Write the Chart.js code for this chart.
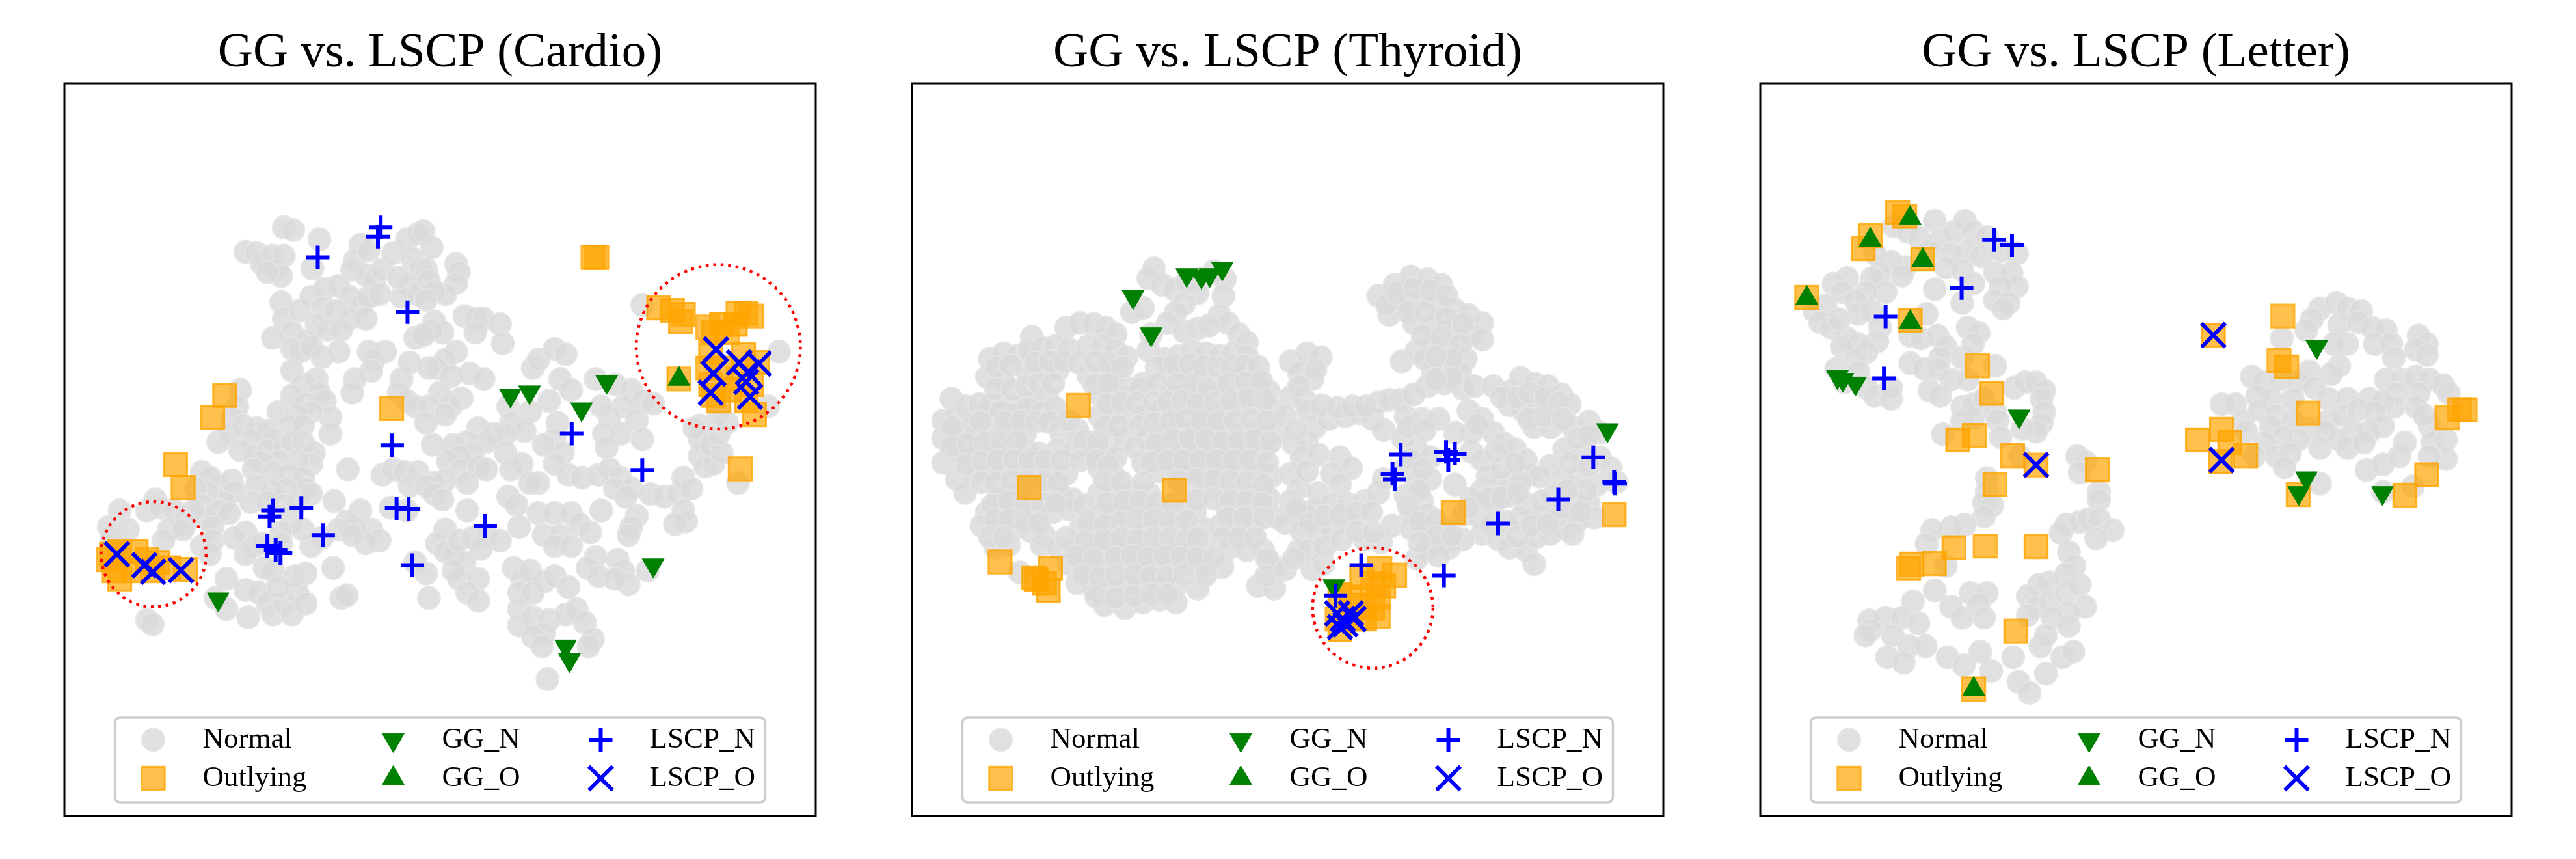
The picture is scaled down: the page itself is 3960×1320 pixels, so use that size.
<!DOCTYPE html>
<html>
<head>
<meta charset="utf-8">
<script src="https://cdn.jsdelivr.net/npm/chart.js@4.4.1/dist/chart.umd.min.js"></script>
<style>
  body { margin: 0; background: #fff; width: 3960px; height: 1320px; overflow: hidden; position: relative; }
  .panel { position: absolute; top: 0; }
</style>
</head>
<body>
<div class="panel" style="left:59px"><canvas id="c0" width="1235" height="1320"></canvas></div>
<div class="panel" style="left:1362px"><canvas id="c1" width="1235" height="1320"></canvas></div>
<div class="panel" style="left:2666px"><canvas id="c2" width="1235" height="1320"></canvas></div>
<script>
// t-SNE style coordinates, one list per series
const titles = ['GG vs. LSCP (Cardio)', 'GG vs. LSCP (Thyroid)', 'GG vs. LSCP (Letter)'];
const legendLabels = ['Normal', 'Outlying', 'GG_N', 'GG_O', 'LSCP_N', 'LSCP_O'];

// ---- Cardio ----
const cardioNormal = [
  [-28.2,40.5],[-26.5,40.0],[-35.2,36.0],[-33.2,35.8],[-32.2,33.8],[-30.2,35.3],[-28.2,35.3],[-29.7,32.8],[-28.7,31.6],[-31.2,32.3],
  [-21.7,38.3],[-23.0,33.0],[-14.2,37.3],[-15.2,34.5],[-12.7,36.3],[-15.7,32.8],[-13.2,31.8],[-11.7,30.8],[-10.2,32.8],[-8.2,35.8],
  [-5.7,38.3],[-3.7,39.3],[-4.7,34.8],[-3.2,32.8],[-5.2,29.8],[-6.7,27.8],[-3.7,28.3],[-7.2,31.3],
  [-28.7,26.8],[-28.2,23.8],[-26.7,21.3],[-25.2,25.3],[-23.2,27.8],[-20.7,29.3],[-18.2,29.8],[-16.2,27.8],[-14.2,26.3],[-12.7,27.8],
  [-10.7,28.3],[-21.2,25.8],[-18.7,25.3],[-16.2,23.8],[-13.2,23.8],[-22.2,22.8],[-20.2,21.8],[-17.7,21.8],[-24.2,19.8],[-26.7,18.3],
  [-25.2,17.8],[-23.2,18.8],[-21.2,16.8],[-18.2,17.8],[-30.2,20.3],[-12.7,17.8],[-9.7,17.8],[-11.7,16.3],[-12.2,14.3],[-15.2,12.8],
  [-15.7,10.3],[-4.2,20.3],[-6.7,12.8],[-5.2,15.8],[-7.2,10.3],[-5.7,8.8],[-4.2,7.8],
  [-26.7,14.3],[-24.7,11.8],[-22.2,12.8],[-21.7,10.3],[-26.7,9.8],[-24.2,8.3],[-20.7,8.8],[-19.7,5.8],[-19.7,2.8],[-23.2,6.8],
  [-25.7,6.3],[-29.2,6.8],[-27.2,4.3],[-24.7,4.3],[-36.2,10.8],[-36.7,7.8],[-37.7,5.8],[-40.2,1.3],[-38.2,2.8],[-35.7,4.3],
  [-33.2,3.8],[-31.2,3.3],[-30.2,1.8],[-34.2,1.8],[-36.2,-0.2],[-33.7,-1.2],[-31.2,-0.2],[-28.2,0.3],[-26.7,1.3],[-24.7,1.3],
  [-22.7,-0.7],[-23.2,-2.7],[-25.7,-2.2],[-29.2,-2.2],[-32.2,-2.2],[-33.7,-3.7],[-30.2,-4.2],[-27.2,-4.7],[-24.7,-5.2],[-24.2,-7.2],
  [-27.7,-7.2],[-30.2,-7.7],[-33.2,-6.7],[-34.2,-9.7],[-31.2,-9.7],[-28.2,-10.2],[-25.7,-9.7],[-23.2,-8.2],[-43.2,-4.2],[-41.7,-5.2],
  [-40.2,-6.7],[-37.7,-5.7],[-37.2,-7.7],[-39.2,-9.7],[-42.2,-7.7],[-44.2,-7.2],[-43.2,-10.2],[-40.2,-11.2],[-38.2,-11.7],[-42.2,-12.7],
  [-44.7,-11.2],[-46.2,-13.7],[-41.2,-14.2],
  [-58.2,-11.2],[-60.2,-14.2],[-56.7,-14.7],[-53.2,-11.2],[-51.7,-9.2],[-50.7,-10.7],[-48.2,-11.2],[-49.2,-14.7],[-46.7,-14.7],[-50.2,-16.7],
  [-59.7,-16.0],[-43.2,-17.7],[-41.2,-16.7],[-41.7,-19.2],
  [-16.5,-3.7],[-19.0,-9.5],[-14.2,-11.2],[-10.2,-4.7],[-8.2,-3.7],[-6.2,-4.2],[-5.2,-6.7],[-3.7,-4.2],[-5.7,-11.2],[-8.7,-10.7],
  [-12.2,-14.7],[-15.2,-14.2],[-16.7,-13.2],[-18.2,-14.7],[-10.7,-16.7],[-13.2,-17.2],[-15.7,-15.7],[-21.2,-16.2],[-23.2,-17.7],[-24.7,-14.7],
  [-26.7,-13.7],[-28.7,-15.2],[-28.7,-17.2],[-35.2,-15.2],[-37.2,-16.2],[-33.7,-17.7],[-35.2,-19.2],[-32.2,-17.2],[-31.7,-21.7],[-30.2,-22.2],
  [-19.2,-21.7],[-17.7,-27.2],[-16.7,-26.7],[-38.7,-23.7],[-40.7,-27.2],[-38.7,-29.2],[-35.2,-25.7],[-34.7,-30.7],[-32.7,-26.2],[-31.2,-28.2],
  [-30.2,-30.2],[-28.2,-28.2],[-26.7,-30.2],[-25.7,-26.2],[-24.2,-22.7],[-24.2,-28.2],[-26.2,-23.2],[-29.2,-25.2],[-53.2,-31.2],[-52.2,-32.0],
  [-4.2,-20.7],
  [-2.7,39.8],[-1.2,36.8],[-2.2,32.8],[-1.7,30.8],[3.3,33.8],[3.8,32.3],[3.3,30.3],[1.3,28.3],[-0.7,28.8],[-2.2,27.3],
  [-0.7,23.3],[0.8,21.3],[-1.2,21.8],[-2.7,20.8],[4.8,24.3],[6.8,23.8],[8.3,23.8],[6.8,21.3],[11.3,22.8],[11.8,19.3],
  [3.3,17.8],[1.3,16.3],[-0.2,14.8],[-1.7,14.8],[2.3,13.3],[5.8,13.8],[8.3,12.8],[4.3,9.3],[2.3,7.8],[0.3,10.3],
  [-1.7,7.8],[-2.2,4.8],[1.3,6.3],
  [17.3,14.8],[18.3,16.3],[21.3,18.3],[23.3,17.3],[22.3,12.8],[24.3,10.8],[20.3,8.8],[21.8,4.8],[21.3,1.8],[22.8,-0.7],[21.3,-2.7],
  [28.8,12.8],[32.3,11.8],[35.3,10.8],[37.3,8.8],[39.3,8.3],[33.8,7.8],[31.3,5.8],[29.8,7.8],[36.3,5.3],[30.3,2.8],
  [33.3,2.8],[37.3,1.8],[30.8,0.3],
  [12.8,7.8],[16.8,6.8],[13.3,4.8],[15.8,3.3],[12.3,2.8],[7.3,3.8],[10.3,2.8],[8.8,1.3],[5.3,1.3],[2.8,0.8],
  [-1.0,0.8],[6.3,-0.7],[3.8,-1.2],[1.8,-2.2],[4.3,-3.7],[7.3,-3.2],[8.8,-3.7],[12.3,-0.7],[13.3,-3.7],[15.3,-2.7],
  [18.3,-6.2],[16.8,-6.2],[19.3,0.8],
  [1.3,-5.7],[-0.7,-6.2],[-2.2,-6.7],[-0.7,-8.2],[0.8,-9.2],[5.3,-6.2],
  [23.8,-4.7],[26.3,-5.2],[29.3,-4.7],[31.3,-3.7],[33.3,-5.2],[35.3,-7.2],[32.3,-7.2],[34.3,-8.7],[12.8,-8.7],[14.3,-10.2],
  [38.8,-8.2],[41.3,-8.7],[43.8,-8.2],[44.8,-5.2],[46.3,-7.2],[44.8,-11.2],[45.3,-13.2],[43.3,-13.7],[36.3,-12.2],[35.3,-14.2],
  [34.8,-15.7],[29.8,-11.2],
  [47.8,-1.2],[48.8,-3.2],[50.3,-2.7],[47.8,1.8],[49.8,0.8],[51.8,-0.7],[51.3,2.8],[52.8,4.8],[54.8,-6.2],[62.3,17.8],
  [60.3,7.8],[51.3,6.3],[47.8,4.3],[37.3,26.3],[46.8,3.8],
  [5.3,-11.2],[1.3,-14.7],[-0.2,-17.2],[1.3,-18.7],[2.8,-19.2],[3.8,-16.7],[6.3,-16.2],[8.8,-15.7],[11.3,-16.7],[7.8,-18.2],
  [4.8,-20.7],[3.8,-23.7],[7.3,-23.7],[5.3,-26.2],[7.3,-27.7],[2.8,-22.2],[-1.7,-27.2],[-2.2,-22.7],
  [14.8,-14.2],[18.3,-11.7],[21.3,-11.7],[24.3,-11.7],[25.8,-13.7],[27.8,-15.2],[19.3,-15.7],[22.3,-15.7],[21.3,-17.7],[24.3,-17.7],
  [28.8,-19.7],[27.3,-21.7],[29.3,-23.2],[32.8,-20.2],[33.8,-22.2],[34.8,-24.7],[32.3,-23.7],[38.3,-22.2],
  [13.8,-21.7],[15.3,-23.7],[16.8,-22.2],[14.8,-26.2],[17.3,-26.2],[19.3,-24.2],[21.3,-23.2],[23.8,-25.2],[14.8,-29.2],[14.8,-32.2],
  [17.3,-30.7],[20.3,-31.2],[23.3,-30.2],[25.3,-29.2],[26.8,-31.7],[19.3,-33.7],[17.3,-34.2],[28.3,-34.7],
  [20.0,-42.0],[27.5,-36.0],[19.0,-36.0]
];
const cardioOutlying = [
  [-39.0,9.8],[-41.2,5.8],[-48.0,-2.8],[-46.6,-7.0],[-8.5,7.4],
  [-59.7,-19.2],[-60.2,-20.2],[-58.2,-18.7],[-55.2,-18.7],[-53.2,-20.2],[-51.2,-20.7],[-49.2,-21.7],[-46.2,-22.0],[-58.2,-23.7],[-55.7,-22.2],
  [-59.2,-22.2],[-52.2,-22.2],
  [28.3,35.0],[29.0,35.0],
  [40.3,25.8],[42.8,25.3],[44.8,24.6],[44.3,23.3],[49.3,22.3],[50.3,21.3],[51.8,22.8],[54.8,24.8],[56.3,24.8],[57.3,24.3],
  [54.3,22.8],[52.8,21.3],[49.8,17.8],[49.3,14.8],[49.8,11.8],[51.3,8.8],[53.3,10.8],[55.8,17.3],[58.3,15.8],[57.3,11.8],
  [57.8,6.3],[51.8,14.8],[54.8,12.8],[56.3,8.8],[50.3,9.8],
  [44.0,12.8],[55.2,-3.6]
];
const cardioGGN = [[-40.2,-27.4],[13.2,9.8],[16.7,10.4],[30.8,12.3],[26.2,7.3],[39.3,-21.2],[23.3,-36.0],[24.0,-38.5]];
const cardioGGO = [[44.0,12.8]];
const cardioLSCPN = [
  [-22.0,35.0],[-10.5,40.5],[-11.0,38.8],[-5.6,25.0],[-8.4,0.7],[-30.2,-11.2],[-30.8,-12.3],[-25.0,-10.7],[-31.2,-17.7],
  [-29.7,-18.4],[-28.8,-19.0],[-21.0,-15.7],[-7.6,-10.8],[-5.4,-10.9],[-4.7,-21.2],[24.4,2.8],[37.3,-3.8],[8.6,-14.0]
];
const cardioLSCPO = [
  [-58.7,-19.2],[-53.7,-21.2],[-52.1,-22.4],[-47.0,-22.1],[50.8,18.2],[55.0,15.8],[58.6,15.6],[50.3,13.8],[56.6,14.0],
  [56.3,12.3],[49.8,10.3],[57.0,9.6]
];
const cardioRings = [[51.2,18.7,15.0],[-52.0,-19.2,9.6]];   // centre x, centre y, radius

// ---- Thyroid ----
const thyroidNormal = [
  [-24.1,33.0],[-25.1,31.2],[-22.6,30.0],[-20.4,29.2],[-18.1,30.5],[-15.6,31.0],[-13.1,32.5],[-11.1,31.0],[-11.4,28.0],[-28.1,25.0],
  [-26.1,25.8],[-16.1,28.5],[-18.6,26.5],[-20.1,25.0],[-21.6,23.0],[-12.1,24.5],[-10.6,23.0],
  [-46.4,20.5],[-40.1,22.2],[-37.6,23.0],[-35.1,22.8],[-32.9,22.2],[-31.1,21.0],[-24.6,21.0],[-18.6,21.5],[-16.1,22.0],[-14.1,22.5],
  [-8.6,21.0],[-7.1,19.5],
  [-54.1,16.5],[-51.6,17.5],[-49.1,17.0],[-46.9,18.2],[-44.6,18.5],[-42.1,18.8],[-39.6,18.2],[-36.1,18.8],[-33.6,19.0],[-31.1,18.0],
  [-29.1,16.8],[-25.1,18.0],[-22.1,16.5],[-19.6,17.0],[-17.1,18.0],[-14.6,17.5],[-12.1,17.0],[-9.6,17.5],[-7.1,17.0],
  [-54.6,13.2],[-51.6,12.5],[-47.1,13.8],[-44.6,14.5],[-41.6,14.5],[-36.1,13.5],[-33.6,13.5],[-31.1,14.0],[-26.1,12.0],[-21.1,14.0],
  [-18.1,14.5],[-15.6,13.0],[-12.6,11.8],[-8.1,13.5],[-5.6,13.2],
  [-61.1,9.2],[-53.6,8.0],[-51.1,8.0],[-48.6,7.5],[-46.1,9.0],[-43.6,9.5],[-34.1,10.0],[-31.1,10.0],[-29.6,11.5],[-26.6,11.0],
  [-21.1,10.0],[-18.6,10.0],[-15.6,9.5],[-8.6,10.0],[-6.1,11.0],[-3.1,10.5],
  [-62.6,5.2],[-60.1,6.0],[-57.1,4.8],[-54.6,7.0],[-52.1,6.8],[-49.6,6.5],[-47.1,7.5],[-44.6,6.8],[-42.1,7.5],[-34.1,6.0],
  [-31.6,6.5],[-28.1,6.0],[-25.6,6.0],[-22.6,7.0],[-20.1,7.5],[-17.1,8.0],[-14.6,7.0],[-11.1,7.0],[-8.1,8.0],[-5.1,8.0],[-2.1,7.0],
  [-62.6,2.0],[-59.6,3.0],[-56.6,3.0],[-53.6,3.0],[-50.6,3.5],[-47.6,3.0],[-41.1,3.0],[-38.1,3.5],[-32.1,2.2],[-29.6,1.8],
  [-25.1,2.0],[-22.6,3.0],[-19.6,3.5],[-16.6,3.5],[-13.6,3.5],[-10.6,3.0],[-7.6,3.0],[-4.6,3.5],[-1.6,3.0],
  [-62.6,-2.5],[-59.6,-1.0],[-56.6,-1.0],[-53.6,-0.5],[-50.6,-0.5],[-47.6,0.0],[-45.1,-0.8],[-41.6,0.0],[-38.6,0.0],[-35.6,0.5],
  [-33.1,-0.5],[-31.1,-1.5],[-26.1,-2.5],[-22.1,-0.5],[-19.1,0.0],[-16.1,0.0],[-13.1,0.0],[-10.1,-0.5],[-7.1,0.0],[-4.1,0.0],
  [-60.1,-5.5],[-57.1,-4.5],[-54.1,-4.0],[-51.6,-3.5],[-48.6,-3.5],[-45.6,-4.0],[-42.6,-3.5],[-40.1,-4.5],[-34.1,-3.5],[-31.6,-4.5],
  [-23.1,-4.0],[-20.1,-3.5],[-17.1,-4.0],[-14.1,-4.0],[-11.1,-3.5],[-8.1,-4.0],[-5.1,-4.0],[-2.6,-5.0],
  [-58.6,-8.0],[-52.6,-9.0],[-49.6,-8.0],[-46.6,-8.5],[-43.6,-8.0],[-41.1,-8.5],[-38.9,-9.2],[-34.1,-8.0],[-31.1,-8.0],[-28.1,-7.8],
  [-25.1,-8.0],[-18.1,-9.0],[-14.6,-7.0],[-11.6,-7.5],[-8.6,-8.0],[-5.6,-8.0],[-3.1,-9.0],
  [-54.6,-11.5],[-51.6,-11.0],[-48.6,-11.2],[-45.6,-11.5],[-42.6,-11.5],[-39.6,-11.0],[-36.9,-10.2],[-34.1,-12.0],[-31.1,-11.5],[-28.1,-11.0],
  [-25.1,-11.0],[-22.1,-12.0],[-19.1,-11.5],[-16.6,-11.5],[-10.6,-11.0],[-7.6,-11.0],[-5.1,-10.5],[-1.6,-12.5],
  [-55.6,-14.0],[-52.6,-14.5],[-49.6,-14.5],[-46.6,-15.0],[-44.1,-15.8],[-37.6,-14.5],[-34.6,-15.5],[-31.6,-15.0],[-28.6,-14.5],[-25.6,-15.0],
  [-22.6,-14.5],[-19.6,-14.5],[-15.1,-14.5],[-12.1,-14.0],[-9.1,-14.5],[-6.1,-14.0],
  [-53.1,-18.0],[-50.6,-17.5],[-44.6,-17.5],[-41.6,-18.0],[-38.6,-18.0],[-35.6,-19.0],[-32.1,-18.0],[-29.1,-17.5],[-26.1,-18.0],[-23.1,-17.5],
  [-20.1,-18.0],[-17.1,-18.5],[-15.1,-18.0],[-10.1,-18.0],[-7.1,-18.5],[-4.1,-18.5],
  [-48.6,-22.5],[-39.6,-21.0],[-36.6,-21.5],[-33.6,-21.5],[-30.6,-21.0],[-27.6,-20.5],[-24.6,-21.5],[-21.6,-21.0],[-18.6,-21.0],[-15.1,-21.5],
  [-11.6,-21.5],[-2.1,-21.5],
  [-38.1,-24.5],[-35.1,-25.5],[-32.1,-25.5],[-29.1,-24.5],[-26.1,-25.0],[-23.1,-25.0],[-20.1,-25.0],[-16.1,-25.5],[-5.1,-25.0],[-2.1,-25.5],
  [-33.1,-28.5],[-29.4,-29.0],[-26.1,-28.0],[-23.1,-27.5],[-20.1,-28.0],
  // in-between rows of the left mass
  [-52.9,15.0],[-50.3,15.3],[-45.8,15.8],[-43.1,16.0],[-40.5,16.0],[-37.8,15.8],[-34.8,16.0],[-32.3,15.8],[-29.8,15.0],[-23.6,15.0],
  [-20.3,15.5],[-17.6,15.6],[-15.1,15.2],[-12.4,15.0],[-9.9,15.2],[-7.5,15.3],[-5.0,15.0],
  [-53.0,11.0],[-49.9,10.8],[-47.4,11.5],[-45.0,12.0],[-42.5,12.0],[-35.0,11.8],[-32.4,11.9],[-23.5,12.0],[-19.8,12.0],[-17.0,11.8],
  [-14.2,11.0],[-10.5,12.0],[-7.3,12.2],[-4.5,12.5],
  [-58.5,7.8],[-56.0,8.2],[-32.6,8.3],[-30.0,8.5],[-27.3,8.5],[-24.0,8.6],[-21.5,8.7],[-19.0,8.8],[-16.2,8.2],[-13.0,8.5],
  [-10.0,8.8],[-6.8,9.3],[-3.8,9.0],
  [-61.1,4.0],[-55.8,5.0],[-51.3,5.0],[-48.4,5.2],[-45.6,5.0],[-43.3,5.0],[-39.6,5.2],[-33.1,4.2],[-30.6,4.2],[-26.8,4.2],
  [-24.0,4.8],[-21.0,5.2],[-18.2,5.5],[-15.4,5.2],[-12.3,5.2],[-9.3,5.2],[-6.4,5.5],[-3.4,5.2],
  [-61.1,0.5],[-58.1,1.0],[-55.1,1.2],[-52.1,1.5],[-49.1,1.5],[-36.8,1.5],[-34.3,1.3],[-27.6,0.3],[-23.6,1.0],[-20.6,1.8],
  [-17.6,1.8],[-14.6,1.8],[-11.6,1.3],[-8.6,1.5],[-5.6,1.8],[-2.8,1.3],
  [-58.4,-2.8],[-55.4,-2.2],[-52.6,-2.0],[-49.6,-2.0],[-46.9,-2.2],[-43.9,-2.0],[-40.9,-2.0],[-37.4,-2.0],[-34.6,-2.0],[-32.4,-3.0],
  [-24.6,-2.3],[-21.6,-2.0],[-18.6,-2.0],[-15.6,-2.0],[-12.6,-2.0],[-9.6,-2.0],[-6.6,-2.0],[-3.4,-2.4],
  [-55.6,-6.0],[-53.1,-6.2],[-50.1,-5.8],[-47.1,-5.8],[-44.1,-5.8],[-41.6,-6.2],[-33.1,-5.8],[-30.1,-6.0],[-26.0,-6.2],[-19.6,-5.8],
  [-16.1,-5.5],[-13.1,-5.6],[-10.1,-5.8],[-7.1,-6.0],[-4.1,-6.5],
  [-53.6,-10.2],[-50.6,-9.5],[-47.6,-9.8],[-44.6,-9.8],[-42.1,-9.8],[-32.6,-9.8],[-29.6,-9.5],[-26.6,-9.5],[-23.6,-9.8],[-20.6,-10.0],
  [-16.3,-9.2],[-13.1,-9.0],[-10.1,-9.3],[-7.1,-9.5],[-4.3,-9.8],
  [-53.1,-12.8],[-50.6,-12.8],[-47.6,-13.2],[-45.1,-13.5],[-36.1,-13.2],[-33.1,-13.8],[-30.1,-13.2],[-27.1,-12.8],[-24.1,-12.8],[-21.1,-13.2],
  [-18.1,-13.0],[-10.6,-12.5],[-7.6,-12.5],[-4.0,-12.5],
  [-54.1,-16.0],[-51.6,-16.0],[-40.1,-16.2],[-36.6,-16.8],[-33.1,-16.5],[-30.1,-16.2],[-27.1,-16.5],[-24.1,-16.2],[-21.1,-16.2],[-18.1,-16.5],
  [-16.1,-16.2],[-11.6,-16.2],[-8.6,-16.2],[-5.6,-16.2],
  [-38.1,-19.5],[-35.1,-20.0],[-31.1,-19.8],[-28.1,-19.5],[-25.1,-19.8],[-22.1,-19.5],[-19.1,-19.8],[-16.1,-19.8],[-13.1,-19.8],[-3.4,-20.0],
  [-37.1,-23.0],[-34.1,-23.5],[-31.1,-23.0],[-27.6,-23.0],[-24.6,-23.2],[-21.6,-23.2],[-18.6,-23.0],[-14.6,-23.0],[-3.6,-23.2],
  [-34.6,-27.0],[-31.1,-27.2],[-27.6,-26.8],[-24.6,-26.5],[-21.6,-26.5],
  // right half
  [16.9,28.0],[19.9,30.0],[22.9,31.5],[25.9,31.0],[28.4,30.0],[21.9,27.0],[24.9,27.5],[27.9,26.5],[30.9,25.5],[33.4,24.5],
  [35.9,23.0],[18.9,24.5],[23.4,23.0],[26.9,22.5],[30.4,21.5],[33.9,21.0],[35.9,20.0],[21.2,16.0],[23.9,18.0],[26.9,19.0],
  [29.9,18.0],[32.9,16.5],[28.9,15.0],[31.9,14.0],[26.9,14.0],[25.9,11.5],[28.9,12.0],[32.4,11.0],[34.4,11.5],
  [0.9,16.0],[3.9,17.5],[6.4,16.8],[2.4,14.0],[4.9,12.8],
  [5.4,4.0],[7.9,5.5],[10.9,6.0],[13.4,6.5],[15.9,5.5],[17.9,3.5],[16.9,8.5],[18.9,9.0],[1.4,1.0],[3.9,1.5],
  [2.9,-1.5],[0.9,-4.5],[2.4,-7.0],[0.9,-9.5],[3.4,-12.0],[5.9,-1.0],[9.9,-1.5],[11.9,-3.5],[8.4,-4.5],[9.9,-6.5],
  [5.9,-8.0],[5.4,-11.0],[8.4,-10.0],[11.4,-10.0],[14.4,-9.5],[16.9,-8.0],[17.9,-5.5],
  [-0.1,-13.5],[2.9,-15.0],[5.9,-15.5],[8.4,-14.5],[11.4,-13.0],[14.4,-16.5],[17.4,-17.0],[19.4,-14.0],[4.9,-22.0],[6.9,-21.0],
  [2.4,-18.5],[-0.1,-22.0],
  [20.9,9.0],[23.4,10.0],[21.9,6.0],[24.9,5.5],[27.9,5.5],[21.4,2.0],[23.9,0.0],[26.4,-1.5],[21.9,-3.5],[23.9,-6.0],
  [26.4,-5.5],[21.9,-8.5],[24.9,-9.5],[22.9,-12.0],[25.9,-12.0],[22.9,-14.5],[25.9,-15.0],[28.9,-14.5],[28.9,-17.0],[25.9,-18.5],
  [23.9,-20.0],[30.9,-6.5],
  [33.4,7.0],[35.9,5.5],[37.9,3.0],[39.9,1.0],[41.9,0.0],[43.9,-2.0],[44.4,-4.5],[41.4,-5.5],[38.9,-7.0],[35.9,-7.5],
  [33.9,-9.0],[32.4,-12.0],[35.4,-12.5],[37.9,-10.0],[40.9,-8.5],[43.9,-10.0],[42.9,-12.5],[35.9,-15.5],[38.9,-16.5],[40.9,-18.0],
  [43.9,-18.5],[45.4,-21.0],[45.9,-16.0],[48.4,-15.5],[50.9,-14.5],[49.9,-12.0],[46.9,-12.5],[32.4,-16.5],[29.9,-18.0],[33.9,-0.5],
  [35.9,-2.0],[33.9,3.0],[30.9,3.0],
  [37.9,11.5],[40.9,10.5],[42.9,13.0],[45.4,12.0],[47.9,11.5],[50.4,10.0],[51.9,8.2],[49.4,7.0],[46.4,8.0],[43.4,7.0],
  [40.9,8.0],[45.4,4.0],[48.4,4.0],
  [52.4,4.0],[55.4,5.0],[57.4,3.0],[50.9,0.0],[53.9,-1.0],[57.4,-1.5],[59.4,-3.5],[60.4,-6.0],[48.4,-3.0],[46.4,-5.0],
  [50.4,-5.5],[53.4,-5.0],[56.9,-6.5],[48.9,-8.5],[52.4,-9.0],[55.4,-10.0],[56.4,-12.5],[53.4,-13.0],[52.4,-15.5],[46.9,-9.5],
  [42.9,-6.0],[53.4,2.0],
  [0.9,9.5],[3.4,9.0],[-0.1,6.0],[1.9,3.5],
  // in-between rows of the right half
  [18.4,26.5],[20.4,28.5],[23.4,29.3],[26.4,29.0],[29.4,28.0],[22.4,25.0],[25.4,25.0],[29.4,24.0],[32.4,23.0],[25.0,20.8],
  [28.4,20.5],[31.9,19.0],[25.4,16.5],[30.4,16.5],[27.4,17.0],[30.4,13.0],[27.4,12.8],
  [2.4,11.5],[5.4,14.5],[4.0,7.0],[6.6,8.0],[9.4,7.5],[12.2,7.8],[14.6,7.8],
  [3.9,-4.0],[1.9,-10.8],[4.4,-13.5],[7.1,-12.2],[9.9,-12.0],[12.9,-11.5],[15.6,-11.5],
  [4.2,-18.5],[7.2,-17.8],[10.2,-16.5],[13.0,-15.0],[16.0,-15.3],[1.5,-20.0],
  [22.4,4.0],[25.4,3.5],[22.9,-1.8],[25.0,-3.8],[24.4,-7.5],[22.4,-10.3],[24.4,-13.3],[27.4,-13.0],[27.4,-16.0],[24.4,-17.0],
  [30.4,-15.8],[27.9,-19.5],
  [33.4,-10.8],[36.9,-9.0],[39.4,-8.8],[42.4,-8.0],[37.4,-13.8],[40.4,-13.3],[42.4,-16.0],[44.9,-14.0],[47.9,-13.8],
  [36.9,-4.8],[39.4,-3.5],[41.9,-2.5],[38.4,-0.5],[35.0,4.5],
  [39.4,9.5],[42.4,9.5],[44.4,10.3],[47.4,9.5],[49.9,8.5],[44.4,5.5],[47.4,6.0],[50.6,5.5],
  [51.9,-2.5],[55.4,-3.0],[55.4,2.5],[50.4,-10.8],[53.9,-11.3],[54.9,-7.5],[51.4,-7.5]
];
const thyroidOutlying = [
  [-37.9,8.0],[-46.9,-7.0],[-20.4,-7.5],[-52.2,-20.6],[-43.0,-21.8],[-45.6,-23.8],[-44.1,-24.5],[-43.4,-25.8],[-46.1,-23.5],
  [30.6,-11.6],[60.0,-12.0],
  [17.2,-21.8],[19.9,-23.0],[15.9,-24.5],[17.9,-25.0],[16.9,-27.0],[15.9,-29.0],[13.9,-28.5],[11.9,-27.0],[9.9,-26.5],
  [11.9,-31.0],[9.4,-31.0],[9.9,-33.0],[14.4,-31.0],[16.9,-30.5],[13.9,-23.5]
];
const thyroidGGN = [[-27.9,27.8],[-24.6,21.0],[-18.1,31.8],[-15.4,31.5],[-13.9,31.8],[-11.6,33.0],[58.8,3.5],[8.8,-25.0]];
const thyroidGGO = [];
const thyroidLSCPN = [
  [21.0,-1.0],[19.5,-4.5],[19.9,-5.5],[29.3,-0.5],[30.9,-0.8],[29.7,-2.0],[56.2,-1.5],[60.0,-6.0],[60.2,-6.3],[49.8,-9.2],
  [38.8,-13.6],[28.9,-23.1],[13.8,-21.2],[9.1,-26.8]
];
const thyroidLSCPO = [[10.4,-31.0],[11.9,-30.0],[9.9,-32.5],[10.9,-32.0],[9.4,-30.0],[12.4,-31.0]];
const thyroidRings = [[15.9,-29.0,11.0]];

// ---- Letter ----
const letterNormal = [
  [-43.9,40.7],[-41.4,39.7],[-39.4,38.7],[-36.4,41.7],[-35.4,38.2],[-37.4,36.2],[-32.9,39.7],[-30.9,41.7],[-29.4,39.7],[-26.9,38.7],
  [-30.4,36.2],[-27.9,35.2],[-24.4,36.2],[-21.4,35.7],[-33.4,35.7],[-34.4,33.2],[-31.4,32.7],[-29.4,30.2],[-25.4,32.2],[-22.4,32.2],
  [-21.4,29.7],[-24.4,29.7],[-25.4,27.2],[-22.9,26.7],[-23.9,25.7],[-31.4,26.7],[-36.4,29.2],[-41.9,33.2],[-44.4,34.2],[-47.4,35.7],
  [-46.4,32.2],[-42.4,31.7],[-47.9,31.2],[-45.4,28.7],[-48.9,28.7],[-52.4,31.2],[-54.9,30.2],[-53.4,28.7],[-50.9,27.2],[-50.4,24.7],
  [-47.9,25.2],[-46.4,22.2],[-46.9,19.7],[-48.9,17.7],[-50.4,19.2],[-52.4,20.2],[-53.4,18.7],[-50.9,16.2],[-50.4,14.2],[-54.4,14.7],
  [-56.4,26.2],[-58.4,25.2],[-57.4,23.2],[-55.4,22.2],[-53.9,23.7],[-52.9,12.2],[-48.9,11.2],[-47.4,9.7],[-44.4,9.2],[-44.4,11.2],
  [-37.9,24.7],[-40.9,20.7],[-38.9,20.2],[-35.9,20.7],[-34.4,18.7],[-35.4,16.7],[-40.9,15.7],[-38.4,14.7],[-35.9,14.7],[-33.4,12.7],
  [-37.4,10.7],[-35.4,9.7],[-31.4,16.7],[-30.4,22.2],[-28.4,21.2],[-29.4,19.2],[-25.4,15.2],[-30.4,12.7],[-31.4,7.7],[-29.4,8.2],
  [-27.4,9.2],[-31.4,5.2],[-29.4,5.7],[-34.9,2.7],[-25.4,6.7],[-24.9,5.2],[-24.4,2.2],[-21.9,11.2],[-19.9,12.2],[-17.9,12.2],
  [-16.4,10.7],[-16.9,9.2],[-16.4,6.7],[-16.9,4.7],[-17.9,3.2],[-20.4,3.7],[-20.9,-1.3],[-10.4,-1.3],[-8.9,-2.3],[-9.9,-4.3],
  [-6.4,-7.8],[-6.4,-9.3],[-26.9,-5.3],[-26.9,-7.8],[-27.4,-9.8],[-25.9,-10.3],[-27.4,-12.3],[-30.9,-13.8],[-33.4,-14.3],[-36.9,-14.8],
  [-37.9,-17.3],[-34.4,-21.3],[-12.4,-13.8],[-13.4,-15.3],[-9.9,-13.3],[-8.4,-12.8],[-6.4,-12.8],[-3.9,-14.8],[-6.9,-16.3],[-11.9,-18.8],
  [-10.9,-21.3],[-12.4,-22.8],[-15.4,-24.3],[-17.4,-24.8],[-19.4,-26.8],[-17.9,-28.8],[-15.4,-27.8],[-12.4,-26.3],[-9.9,-24.8],[-8.9,-28.8],
  [-11.9,-29.8],[-14.9,-30.8],[-19.4,-30.3],[-11.9,-32.3],[-36.4,-25.8],[-40.4,-27.8],[-33.4,-28.8],[-29.9,-26.3],[-26.9,-26.3],[-28.4,-28.3],
  [-31.4,-30.8],[-27.4,-30.8],[-45.4,-30.8],[-48.4,-31.3],[-42.4,-30.8],[-39.4,-31.8],
  [-44.1,-34.0],[-41.1,-36.0],[-45.1,-38.0],[-48.1,-33.0],[-34.1,-38.0],[-31.1,-39.5],[-26.1,-40.5],[-21.1,-42.5],[-19.1,-44.5],[-16.1,-41.0],
  [-13.1,-38.0],[-17.1,-36.0],[-22.1,-38.0],[-28.1,-37.0],[-38.1,-36.0],[-11.1,-37.0],[-16.1,-34.0],[-49.1,-34.0],[-42.1,-39.0],
  [34.0,25.7],[37.0,26.7],[39.0,25.7],[41.5,25.2],[32.5,23.7],[31.5,21.7],[37.5,22.7],[41.0,23.2],[43.5,22.2],[46.0,21.7],
  [44.0,19.2],[47.0,19.2],[47.5,16.7],[39.0,19.2],[36.5,19.2],[27.0,20.2],[52.0,20.7],[53.5,19.2],[51.5,18.2],[53.5,17.2],
  [37.5,15.2],[36.0,13.7],[32.0,14.2],[21.5,13.2],[23.5,12.2],[46.0,12.7],[49.0,12.7],[51.5,13.2],[54.0,12.7],[56.5,11.7],
  [57.5,10.2],[52.0,10.2],[48.0,10.2],[47.5,7.7],[51.5,7.7],[26.5,12.7],[30.0,12.2],[33.0,11.2],[22.5,9.7],[25.0,9.2],
  [29.0,9.2],[35.5,9.2],[39.0,9.2],[43.0,9.2],[45.5,8.7],[16.0,8.2],[18.5,8.2],[20.0,5.2],[20.5,3.2],[23.0,7.2],
  [26.0,6.2],[25.0,4.2],[29.0,5.2],[32.0,3.7],[35.5,5.2],[38.0,6.2],[41.0,7.2],[44.0,6.7],[45.5,4.2],[43.0,3.2],
  [40.0,3.2],[37.5,1.7],[35.0,3.2],[34.0,0.2],[30.0,1.7],[27.0,2.2],[24.0,1.2],[22.0,-1.3],[26.0,-1.3],[28.5,-0.8],
  [27.5,-3.3],[39.0,0.2],[42.0,1.2],[34.0,-6.3],[42.5,-3.8],[45.5,-2.8],[48.5,-1.3],[49.5,1.2],[51.0,-6.8],[45.5,-7.8],
  [54.0,4.2],[54.5,1.2],[57.0,1.7],[57.0,-1.8],[54.0,-1.3],[53.0,6.2]
];
const letterOutlying = [
  [-43.2,43.2],[-41.9,42.5],[-48.2,39.0],[-49.5,36.6],[-38.6,34.7],[-59.8,27.7],[-40.9,23.5],[-28.6,15.2],[-26.0,10.2],[-32.2,1.7],
  [-29.2,2.5],[-22.2,-1.2],[-17.9,-2.9],[-25.4,-6.5],[-6.7,-3.8],[-32.9,-18.0],[-27.2,-17.7],[-17.9,-17.8],[-40.6,-21.0],[-41.2,-21.8],
  [-36.5,-20.9],[-21.6,-33.2],[-29.3,-43.8],
  [27.2,24.3],[14.5,20.8],[26.5,16.2],[27.9,15.0],[31.8,6.6],[16.0,3.6],[11.6,1.7],[17.5,1.2],[20.4,-1.2],[15.8,-2.3],
  [53.5,-4.7],[49.5,-8.4],[30.0,-8.3],[57.2,5.7],[59.5,7.2],[60.5,7.2]
];
const letterGGN = [[-54.2,13.2],[-53.2,12.7],[-50.9,12.0],[-21.0,6.0],[33.4,18.7],[31.5,-5.3],[30.1,-8.0],[45.4,-8.0]];
const letterGGO = [[-40.9,42.2],[-48.2,38.2],[-38.6,34.5],[-59.8,27.6],[-40.9,23.2],[-29.3,-43.8]];
const letterLSCPN = [[-25.6,38.2],[-22.3,37.2],[-31.5,29.4],[-45.4,24.2],[-45.7,12.9]];
const letterLSCPO = [[14.5,20.8],[16.0,-2.0],[-17.9,-2.9]];
const letterRings = [];

// axis limits shared by the three panels
const xRange = [-68.3, 69.0];
const yRange = [-67.0, 66.8];

// marker look for each series, same order as legendLabels
const seriesStyle = [
  { pointStyle: 'circle',   radius: 17.5, rotation: 0,   fill: 'rgba(218,218,218,0.85)', line: 'rgba(228,228,228,0.9)', width: 2 },
  { pointStyle: 'rect',     radius: 25,   rotation: 0,   fill: 'rgba(255,165,0,0.7)',    line: 'rgba(255,165,0,0.8)',   width: 3 },
  { pointStyle: 'triangle', radius: 19.5, rotation: 180, fill: 'rgb(0,128,0)',           line: 'rgb(0,128,0)',          width: 1 },
  { pointStyle: 'triangle', radius: 19.5, rotation: 0,   fill: 'rgb(0,128,0)',           line: 'rgb(0,128,0)',          width: 1 },
  { pointStyle: 'cross',    radius: 18,   rotation: 0,   fill: 'rgb(0,0,255)',           line: 'rgb(0,0,255)',          width: 6 },
  { pointStyle: 'crossRot', radius: 26,   rotation: 0,   fill: 'rgb(0,0,255)',           line: 'rgb(0,0,255)',          width: 6 }
];

const panels = [
  { title: titles[0], series: [cardioNormal, cardioOutlying, cardioGGN, cardioGGO, cardioLSCPN, cardioLSCPO], rings: cardioRings },
  { title: titles[1], series: [thyroidNormal, thyroidOutlying, thyroidGGN, thyroidGGO, thyroidLSCPN, thyroidLSCPO], rings: thyroidRings },
  { title: titles[2], series: [letterNormal, letterOutlying, letterGGN, letterGGO, letterLSCPN, letterLSCPO], rings: letterRings }
];

// red dotted rings around the outlier groups
const ringPlugin = {
  id: 'rings',
  afterDatasetsDraw(chart, args, opts) {
    const ctx = chart.ctx, xs = chart.scales.x, ys = chart.scales.y;
    ctx.save();
    ctx.strokeStyle = 'rgb(255,0,0)';
    ctx.lineWidth = 4.5;
    ctx.setLineDash([4.5, 7]);
    (opts.list || []).forEach(r => {
      const cx = xs.getPixelForValue(r[0]);
      const cy = ys.getPixelForValue(r[1]);
      const rad = xs.getPixelForValue(r[0] + r[2]) - cx;
      ctx.beginPath();
      ctx.arc(cx, cy, rad, 0, Math.PI * 2);
      ctx.stroke();
    });
    ctx.restore();
  }
};

// axes frame + matplotlib style legend box (3 columns, 2 rows, lower centre)
const framePlugin = {
  id: 'frameLegend',
  afterDraw(chart) {
    const ctx = chart.ctx, a = chart.chartArea;
    ctx.save();
    ctx.lineWidth = 3;
    ctx.strokeStyle = '#000';
    ctx.setLineDash([]);
    ctx.strokeRect(a.left, a.top, a.right - a.left, a.bottom - a.top);

    const w = 1000, h = 130;
    const x0 = (a.left + a.right) / 2 - w / 2;
    const y0 = a.bottom - 21 - h;
    ctx.beginPath();
    ctx.roundRect(x0, y0, w, h, 8);
    ctx.fillStyle = 'rgba(255,255,255,0.8)';
    ctx.fill();
    ctx.lineWidth = 3.5;
    ctx.strokeStyle = '#cccccc';
    ctx.stroke();

    const markX = [59, 428, 747], textX = [135, 503, 822], rowY = [34, 93];
    ctx.font = '45px "Liberation Serif", serif';
    ctx.textBaseline = 'middle';
    ctx.textAlign = 'left';
    chart.data.datasets.forEach((ds, i) => {
      const col = Math.floor(i / 2), row = i % 2;
      const st = seriesStyle[i];
      const mx = x0 + markX[col], my = y0 + rowY[row];
      ctx.fillStyle = st.fill;
      ctx.strokeStyle = st.line;
      ctx.lineWidth = st.width;
      Chart.helpers.drawPoint(ctx, { pointStyle: st.pointStyle, rotation: st.rotation, radius: st.radius, borderWidth: st.width }, mx, my);
      ctx.fillStyle = '#000';
      ctx.fillText(ds.label, x0 + textX[col], my);
    });
    ctx.restore();
  }
};

panels.forEach((p, k) => {
  const datasets = p.series.map((pts, i) => {
    const st = seriesStyle[i];
    return {
      label: legendLabels[i],
      data: pts.map(([x, y]) => ({ x, y })),
      pointStyle: st.pointStyle,
      pointRadius: st.radius,
      pointRotation: st.rotation,
      backgroundColor: st.fill,
      borderColor: st.line,
      borderWidth: st.width,
      order: 6 - i   // Normal underneath, LSCP_O on top
    };
  });

  new Chart(document.getElementById('c' + k), {
    type: 'scatter',
    data: { datasets },
    options: {
      responsive: false,
      animation: false,
      events: [],
      layout: { padding: { left: 40, right: 40, top: 0, bottom: 66 } },
      scales: {
        x: { type: 'linear', min: xRange[0], max: xRange[1], display: false },
        y: { type: 'linear', min: yRange[0], max: yRange[1], display: false }
      },
      plugins: {
        legend: { display: false },
        tooltip: { enabled: false },
        rings: { list: p.rings },
        title: {
          display: true,
          text: p.title,
          color: '#000',
          font: { family: "'Liberation Serif', serif", size: 75, weight: 'normal', lineHeight: 1.0 },
          padding: { top: 45, bottom: 8 }
        }
      }
    },
    plugins: [ringPlugin, framePlugin]
  });
});
</script>
</body>
</html>
